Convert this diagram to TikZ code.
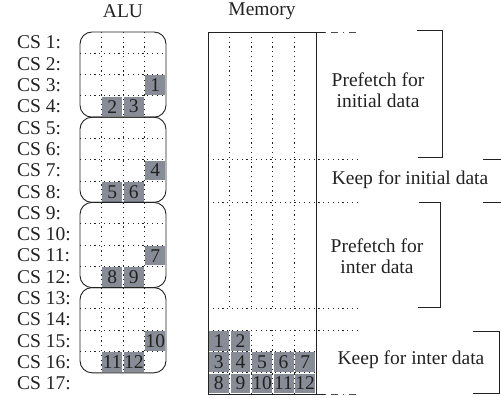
\documentclass[tikz,border=0pt]{standalone}
\usepackage{fontspec}
\setmainfont{Liberation Serif}
\definecolor{cellgray}{HTML}{878C96}
\definecolor{ink}{HTML}{222222}
\begin{document}
\begin{tikzpicture}[x=1pt,y=-1pt,
  font=\fontsize{19.5}{21}\selectfont,
  dotl/.style={line width=0.9pt, dash pattern=on 1.2pt off 3.6pt, ink},
  solidl/.style={line width=0.9pt, ink},
  dashdotl/.style={line width=0.9pt, dash pattern=on 1pt off 5pt on 7pt off 5pt, ink!80},
  cell/.style={fill=cellgray, minimum width=19.8pt, minimum height=19.6pt, inner sep=0pt, text=ink},
  lbl/.style={text=ink, inner sep=0pt},
  txt/.style={text=ink, align=center, inner sep=0pt}]
\useasboundingbox (0,0) rectangle (501,398);
% titles
\node[lbl] (talu) at (123,11) {ALU};
\node[lbl] (tmem) at (262,11) {Memory};
% CS labels
\foreach \j in {1,...,17}{
  \node[lbl, anchor=west] (cs\j) at (17,{32+21.3*(\j-0.5)}) {CS \j:};
}
% ALU boxes
\foreach \b in {0,1,2,3}{
  \foreach \k in {1,2,3}{
    \draw[dotl] (80,{32+21.3*(4*\b+\k)}) -- (166,{32+21.3*(4*\b+\k)});
  }
  \foreach \x in {101.5,123,144.5}{
    \draw[dotl] (\x,{32+85.2*\b}) -- (\x,{32+85.2*(\b+1)});
  }
  \pgfmathtruncatemacro{\na}{3*\b+1}
  \pgfmathtruncatemacro{\nb}{3*\b+2}
  \pgfmathtruncatemacro{\nc}{3*\b+3}
  \node[cell] (alu\na) at (155.25,{32+21.3*(4*\b+2.5)}) {\na};
  \node[cell] (alu\nb) at (112.25,{32+21.3*(4*\b+3.5)}) {\nb};
  \node[cell] (alu\nc) at (133.75,{32+21.3*(4*\b+3.5)}) {\nc};
  \draw[solidl, rounded corners=12pt] (80,{32+85.2*\b}) rectangle (166,{32+85.2*(\b+1)});
}
% Memory
\foreach \x in {229.6,251.2,272.8,294.4}{
  \draw[dotl] (\x,32) -- (\x,{32+21.3*13});
  \draw[dotl] (\x,{32+21.3*14}) -- (\x,394);
}
\foreach \k in {6,8,13,14}{
  \draw[dotl] (208,{32+21.3*\k}) -- (360,{32+21.3*\k});
}
\foreach \k in {15,16}{
  \draw[dotl] (208,{32+21.3*\k}) -- (316,{32+21.3*\k});
}
\foreach \n/\c in {1/1,2/2}{
  \node[cell] (mem\n) at ({208+21.6*(\c-0.5)},{32+21.3*14.5}) {\n};
}
\foreach \n/\c in {3/1,4/2,5/3,6/4,7/5}{
  \node[cell] (mem\n) at ({208+21.6*(\c-0.5)},{32+21.3*15.5}) {\n};
}
\foreach \n/\c in {8/1,9/2,10/3,11/4,12/5}{
  \node[cell] (mem\n) at ({208+21.6*(\c-0.5)},{32+21.3*16.5}) {\n};
}
\draw[solidl] (208,32) rectangle (316,394);
\draw[solidl] (316,32) -- (325,32);
\draw[dashdotl] (325,32) -- (358,32);
\draw[solidl] (316,394) -- (325,394);
\draw[dashdotl] (325,394) -- (358,394);
% brackets
\draw[solidl] (417,30) -- (442,30) -- (442,157) -- (418,157);
\draw[solidl] (483,159) -- (505,159);
\draw[solidl] (483,202) -- (505,202);
\draw[solidl] (419,202) -- (440,202) -- (440,307) -- (418,307);
\draw[solidl] (473,331) -- (499,331) -- (499,393) -- (473,393);
% texts
\node[txt] (pfi) at (378,90) {Prefetch for\\initial data};
\node[txt] (kfi) at (410,180) {Keep for initial data};
\node[txt] (pfx) at (377,256) {Prefetch for\\inter data};
\node[txt] (kfx) at (411,360) {Keep for inter data};
\end{tikzpicture}
\end{document}
